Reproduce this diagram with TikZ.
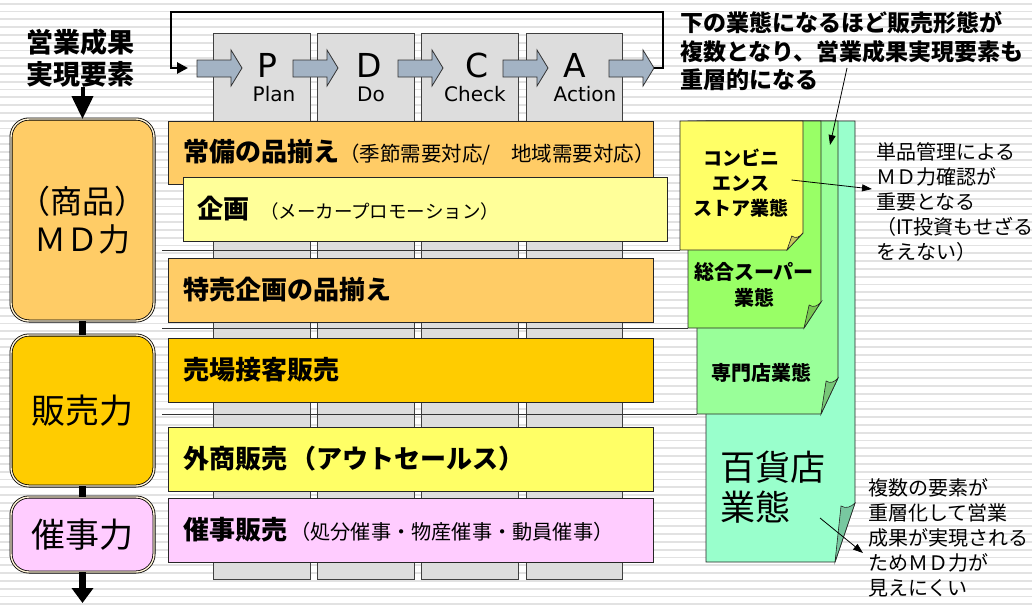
\documentclass[tikz,border=0pt]{standalone}
\usepackage{fontspec}
\setmainfont{Noto Sans CJK JP}
\newfontfamily\latinsans{DejaVu Sans}
\usetikzlibrary{arrows.meta}
\definecolor{cStripe}{HTML}{E2E2E2}
\definecolor{cCol}{HTML}{DDDDDD}
\definecolor{cArrow}{HTML}{A3B3C4}
\definecolor{cLOrange}{HTML}{FFCC66}
\definecolor{cOrange}{HTML}{FFCC00}
\definecolor{cLYellow}{HTML}{FFFF99}
\definecolor{cYellow}{HTML}{FFFF66}
\definecolor{cPink}{HTML}{FFCCFF}
\definecolor{cGreen}{HTML}{99FF66}
\definecolor{cLGreen}{HTML}{99FF99}
\definecolor{cAqua}{HTML}{99FFCC}
\definecolor{fYellow}{HTML}{C8C85A}
\definecolor{fGreen}{HTML}{78C850}
\definecolor{fLGreen}{HTML}{78C878}
\definecolor{fAqua}{HTML}{78C8A0}
\definecolor{cGap}{HTML}{FFF3D6}
% #1 x0, #2 y0, #3 x1, #4 y1, #5 dx, #6 dy, #7 fill, #8 flap fill
\newcommand\foldbox[8]{%
  \filldraw[fill=#7,draw=black!85,line width=0.8pt] (#1,#2) -- (#3,#2) -- (#3,{#4-#6}) -- ({#3-#5},#4) -- (#1,#4) -- cycle;
  \filldraw[fill=#8,draw=black!85,line width=0.6pt] ({#3-#5},#4) -- ({#3-0.7*#5},{#4-#6+3}) .. controls ({#3-0.45*#5},{#4-#6+6}) and ({#3-0.2*#5},{#4-#6+4}) .. (#3,{#4-#6}) -- cycle;
}
\begin{document}
\begin{tikzpicture}[x=1pt,y=-1pt,
  every node/.style={inner sep=0pt, outer sep=0pt},
  colbox/.style={fill=cCol, draw=black!75, line width=0.8pt, anchor=north west, minimum width=97pt, minimum height=546pt},
  band/.style={draw=black!85, line width=0.8pt, anchor=north west, minimum height=64pt, inner xsep=15pt, text width=455pt, align=left},
  leftbox/.style={draw=black, double=cGap, double distance=1.4pt, line width=0.8pt, rounded corners=18pt, anchor=north west, minimum width=143pt, align=center},
  bar/.style={line width=7pt, draw=black},
  divider/.style={draw=black!80, line width=0.8pt},
  pdca/.style={fill=cArrow, draw=black!80, line width=0.8pt},
  bigletter/.style={font=\latinsans\fontsize{33}{33}\selectfont},
  smallword/.style={font=\latinsans\fontsize{20}{20}\selectfont},
  note/.style={font=\fontsize{20}{25}\selectfont, align=left, anchor=west},
  pointer/.style={draw=black, line width=0.8pt, -{Triangle[length=10pt,width=7pt]}},
  storetext/.style={font=\bfseries\fontsize{19}{25}\selectfont, align=center}
]
\useasboundingbox (0,0) rectangle (1032,605);
\fill[white] (0,0) rectangle (1032,605);
\foreach \i in {0,...,77} \fill[cStripe] (0,{2.8+7.8*\i}) rectangle (1032,{4.6+7.8*\i});

% PDCA columns
\node[colbox] (colP) at (213,33) {};
\node[colbox] (colD) at (317,33) {};
\node[colbox] (colC) at (421,33) {};
\node[colbox, minimum width=96pt] (colA) at (526,33) {};

% divider lines
\coordinate (dv1) at (162,250);
\coordinate (dv2) at (162,328);
\coordinate (dv3) at (162,414);
\coordinate (cvsSW) at (680,250);
\coordinate (gmsSW) at (688,328);
\coordinate (spcSW) at (697,414);
\draw[divider] (dv1) -- (cvsSW);
\draw[divider] (dv2) -- (gmsSW);
\draw[divider] (dv3) -- (spcSW);

% bands
\node[band, fill=cLOrange, minimum height=63pt] (b1) at (168,121) {{\bfseries\fontsize{26}{26}\selectfont 常備の品揃え}{\fontsize{20.5}{21}\selectfont （季節需要対応/　地域需要対応）}};
\node[band, fill=cLYellow, inner xsep=14pt, text width=456pt] (b2) at (183,177) {{\bfseries\fontsize{26}{26}\selectfont 企画}\hspace{11pt}{\fontsize{18.5}{20}\selectfont （メーカープロモーション）}};
\node[band, fill=cLOrange] (b3) at (168,258) {{\bfseries\fontsize{26}{26}\selectfont 特売企画の品揃え}};
\node[band, fill=cOrange] (b4) at (168,338) {{\bfseries\fontsize{26}{26}\selectfont 売場接客販売}};
\node[band, fill=cYellow] (b5) at (168,427) {{\bfseries\fontsize{26}{26}\selectfont 外商販売 （アウトセールス）}};
\node[band, fill=cPink] (b6) at (168,498) {{\bfseries\fontsize{26}{26}\selectfont 催事販売} {\fontsize{20.2}{21}\selectfont （処分催事・物産催事・動員催事）}};

% PDCA block arrows
\foreach \x in {197,293,398,503,609}
  \filldraw[pdca] (\x,60) -- ++(34,0) -- ++(0,-10) -- ++(11,18) -- ++(-11,18) -- ++(0,-9) -- ++(-34,0) -- cycle;
\coordinate (pdcaOut) at (654,68);
\coordinate (loopNE) at (663,12);
\coordinate (loopNW) at (171,12);
\coordinate (pdcaIn) at (188,68);
\draw[line width=2.8pt, -{Triangle[length=11pt,width=11pt]}] (pdcaOut) -| (loopNE) -- (loopNW) |- (pdcaIn);

\node[bigletter] (P) at (267,65) {P};
\node[smallword] (Plan) at (274,94) {Plan};
\node[bigletter] (D) at (369,65) {D};
\node[smallword] (Do) at (371,94) {Do};
\node[bigletter] (C) at (477,65) {C};
\node[smallword] (Check) at (475,94) {Check};
\node[bigletter] (A) at (575,65) {A};
\node[smallword] (Action) at (585,94) {Action};

% left side
\node[font=\bfseries\fontsize{27}{32}\selectfont, align=center] (hdr) at (80,58) {営業成果\\実現要素};
\node[leftbox, fill=cLOrange, minimum height=202pt, font=\fontsize{32}{38}\selectfont] (mdbox) at (11,119) {（商品）\\ＭＤ力};
\node[leftbox, fill=cOrange, minimum height=151pt, font=\fontsize{34}{38}\selectfont] (salesbox) at (11,335) {販売力};
\node[leftbox, fill=cPink, minimum height=75pt, font=\fontsize{34}{38}\selectfont] (eventbox) at (11,497) {催事力};
\coordinate (bottomEnd) at (82.5,603);
\draw[line width=4pt, -{Triangle[length=23pt,width=21pt]}] (hdr.south -| mdbox.north) -- (mdbox.north);
\draw[bar] (mdbox.south) -- (salesbox.north);
\draw[bar] (salesbox.south) -- (eventbox.north);
\draw[bar, -{Triangle[length=15pt,width=21pt]}] (eventbox.south) -- (bottomEnd);

% store format boxes (back to front)
\foldbox{706}{121}{855}{562}{20}{59}{cAqua}{fAqua}
\foldbox{697}{121}{838}{414}{17}{36}{cLGreen}{fLGreen}
\foldbox{688}{121}{821}{328}{17}{26}{cGreen}{fGreen}
\foldbox{680}{121}{803}{250}{16}{17}{cYellow}{fYellow}

\node[storetext] (cvs) at (741,183) {コンビニ\\エンス\\ストア業態};
\node[storetext, font=\bfseries\fontsize{20}{26}\selectfont] (gms) at (754,284.5) {総合スーパー\\業態};
\node[storetext, font=\bfseries\fontsize{20}{26}\selectfont] (spc) at (761,373) {専門店業態};
\node[font=\fontsize{35}{40}\selectfont, align=left, anchor=west] (dept) at (720,487) {百貨店\\業態};

% notes
\node[font=\bfseries\fontsize{23}{28.5}\selectfont, align=left, anchor=west] (topnote) at (680,51.5) {下の業態になるほど販売形態が\\複数となり、営業成果実現要素も\\重層的になる};
\node[note] (note1) at (876,202) {単品管理による\\ＭＤ力確認が\\重要となる\\（IT投資もせざる\\をえない）};
\node[note] (note2) at (868,538) {複数の要素が\\重層化して営業\\成果が実現される\\ためＭＤ力が\\見えにくい};

\coordinate (topPtr) at (847,68);
\coordinate (deptTop) at (830,145);
\coordinate (deptPtr) at (820,518);
\draw[pointer] (topPtr) -- (deptTop);
\draw[pointer] ([xshift=3pt,yshift=3pt]cvs.east) -- ([xshift=-4pt,yshift=13pt]note1.west);
\draw[pointer] (deptPtr) -- ([xshift=-5pt,yshift=-15pt]note2.west);
\end{tikzpicture}
\end{document}
